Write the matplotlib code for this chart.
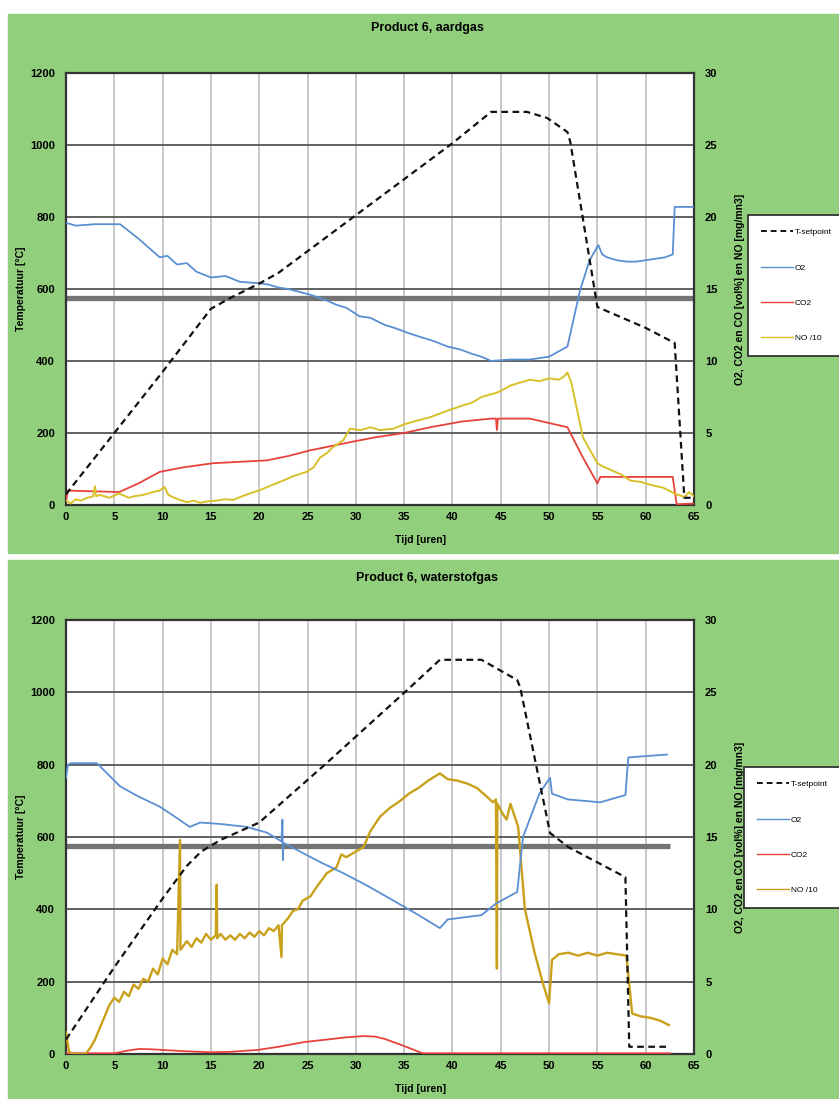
import matplotlib
matplotlib.use("Agg")
import matplotlib.pyplot as plt
from matplotlib.lines import Line2D
from matplotlib.patches import Rectangle

plt.rcParams["font.family"] = ["Liberation Sans", "DejaVu Sans"]

W, H = 839, 1099

GREEN = "#91cf7d"
C_T = "#111111"
C_O2 = "#5a8fd2"
C_CO2 = "#e8423c"
C_NO_TOP = "#d8c02a"
C_NO_BOT = "#c9a01a"

HOURS_TICKS = list(range(0, 70, 5))
TEMP_TICKS = list(range(0, 1400, 200))
GAS_TICKS = list(range(0, 35, 5))
REF_LEVEL = 575

# ---- Product 6, aardgas ----
top_t_h = [0, 5, 10, 15, 17, 20, 22, 30, 35, 40, 44, 47.7, 49.8, 51.9, 52.2, 55, 60, 63, 64, 65]
top_t_v = [30, 200, 370, 545, 575, 615, 645, 805, 905, 1005, 1092, 1092, 1075, 1036, 1008, 550, 492, 450, 20, 20]

top_o2_h = [0, 1, 3, 5.6, 7.5, 9.7, 10.5, 11.5, 12.5, 13.5, 15, 16.5, 18, 20, 21, 22, 23, 25.3, 27, 28,
            29, 30.4, 31.5, 33, 34, 35.6, 37, 38, 39.5, 40.8, 42, 43, 44, 46, 48, 50, 51.9, 52.5,
            53.2, 54.2, 55.1, 55.5, 56, 57, 58, 59, 60, 61, 62, 62.8, 63.0, 65]
top_o2_v = [19.6, 19.4, 19.5, 19.5, 18.5, 17.2, 17.3, 16.7, 16.8, 16.2, 15.8, 15.9, 15.5, 15.4, 15.3, 15.1, 15.0,
            14.6, 14.2, 13.9, 13.7, 13.1, 13.0, 12.5, 12.3, 11.9, 11.6, 11.4, 11.0, 10.8, 10.5, 10.3, 10.0, 10.1,
            10.1, 10.3, 11.0, 12.8, 14.9, 17.0, 18.05, 17.4, 17.2, 17.0, 16.9, 16.9, 17.0, 17.1, 17.2, 17.4,
            20.7, 20.7]

top_co2_h = [0, 0.2, 5.5, 7.5, 9.7, 12, 15.2, 18, 20.8, 23, 25.3, 27.5, 29.7, 32, 35, 37.7, 41, 44,
             44.5, 44.6, 44.7, 48, 51.9, 53.5, 55, 55.3, 59, 62.8, 63.2, 65]
top_co2_v = [0.3, 1.0, 0.9, 1.5, 2.3, 2.6, 2.9, 3.0, 3.1, 3.4, 3.8, 4.1, 4.4, 4.7, 5.0, 5.4, 5.8, 6.0,
             6.0, 5.2, 6.0, 6.0, 5.4, 3.3, 1.5, 1.95, 1.95, 1.95, 0.05, 0.1]

top_no_h = [0, 0.5, 1, 1.5, 2.2, 2.8, 3.0, 3.1, 3.5, 4.5, 5.5, 6.5, 7, 8, 9, 9.7, 10.2, 10.6, 11.2, 11.8,
            12.5, 13.2, 13.9, 14.6, 15.5, 16.5, 17.3, 18.2, 19, 20.1, 21, 22.5, 23.5, 24.9, 25.6, 26.3,
            27, 27.6, 28.7, 29.4, 30.5, 31.5, 32.5, 33.9, 35, 36, 37.7, 38.5, 39.7, 41, 42, 43, 44.6,
            45.5, 46, 47, 48, 49, 50, 51, 51.5, 51.9, 52.3, 53.5, 55, 55.5, 56.5, 57.5, 58.4, 59.5,
            60.5, 61.8, 63, 64, 64.5, 65]
top_no_v = [0.3, 0.1, 0.4, 0.3, 0.5, 0.6, 1.3, 0.6, 0.7, 0.5, 0.8, 0.5, 0.6, 0.7, 0.9, 1.0, 1.25, 0.7, 0.5, 0.35,
            0.2, 0.3, 0.15, 0.25, 0.3, 0.4, 0.35, 0.6, 0.8, 1.04, 1.3, 1.7, 2.0, 2.3, 2.6, 3.3,
            3.6, 4.0, 4.5, 5.3, 5.2, 5.4, 5.2, 5.3, 5.6, 5.8, 6.1, 6.3, 6.6, 6.9, 7.1, 7.5, 7.8,
            8.1, 8.3, 8.5, 8.7, 8.6, 8.8, 8.7, 8.9, 9.2, 8.5, 4.7, 2.9, 2.7, 2.4, 2.1, 1.7, 1.6,
            1.4, 1.2, 0.8, 0.55, 0.9, 0.6]

# ---- Product 6, waterstofgas ----
bot_t_h = [0, 5, 10, 12.5, 14, 16, 20, 27, 35.3, 38.7, 43, 46.7, 47, 50.1, 52, 57.9, 58.3, 62.5]
bot_t_v = [40, 240, 430, 520, 560, 592, 640, 805, 1006, 1090, 1090, 1034, 1015, 611, 572, 489, 20, 20]

bot_o2_h = [0, 0.2, 0.5, 3.2, 5.6, 7.5, 9.7, 11.5, 12.8, 13.9, 16, 18.7, 20.8, 22.3, 22.4, 22.45, 22.5,
            24.5, 26.5, 28.7, 31, 33.9, 36.5, 38.7, 39.5, 43, 44.5, 46.7, 47.3, 49, 50.1, 50.3, 51.9,
            55.3, 57.9, 58.2, 62.2]
bot_o2_v = [19.1, 20.0, 20.1, 20.1, 18.5, 17.8, 17.1, 16.3, 15.7, 16.0, 15.9, 15.7, 15.3, 14.7, 16.2, 13.4, 14.6,
            13.9, 13.2, 12.5, 11.7, 10.6, 9.6, 8.7, 9.3, 9.6, 10.4, 11.2, 15.0, 18.0, 19.1, 18.0, 17.6,
            17.4, 17.9, 20.5, 20.7]

bot_co2_h = [0, 5, 6.5, 7.6, 9, 12, 15, 17, 19.8, 22, 24.7, 27, 29, 30.8, 32, 33, 35, 36.9, 40, 50, 62.5]
bot_co2_v = [0.05, 0.05, 0.25, 0.35, 0.32, 0.2, 0.12, 0.15, 0.28, 0.5, 0.83, 1.0, 1.15, 1.24, 1.2, 1.04, 0.55,
             0.05, 0.05, 0.05, 0.05]

bot_no_h = [0, 0.3, 0.6, 2.0, 2.5, 3, 3.5, 4, 4.5, 5, 5.5, 6, 6.5, 7, 7.5, 8, 8.5, 9, 9.5, 10, 10.5, 11,
            11.5, 11.8, 11.85, 12.5, 13, 13.5, 14, 14.5, 15, 15.5, 15.6, 15.65, 16, 16.5, 17, 17.5,
            18, 18.5, 19, 19.5, 20, 20.5, 21, 21.5, 22, 22.3, 22.35, 23, 23.5, 24, 24.5, 25.3, 26,
            27, 28, 28.5, 29, 30, 30.8, 31.5, 32.5, 33.5, 34.6, 35.5, 36.5, 37.5, 38.7, 39.5, 40.5,
            41.5, 42.5, 43.2, 44.2, 44.5, 44.6, 44.65, 45.2, 45.6, 46, 46.8, 47.5, 48.5, 49.4, 50,
            50.3, 51, 52, 53, 54, 55, 56, 57, 58, 58.6, 59.5, 60.5, 61.5, 62.4]
bot_no_v = [1.5, 0.2, 0.0, 0.0, 0.4, 1.0, 1.8, 2.6, 3.4, 3.9, 3.6, 4.3, 4.0, 4.8, 4.5, 5.2, 5.0, 5.9, 5.5, 6.6, 6.2, 7.2,
            6.9, 14.8, 7.2, 7.8, 7.4, 8.0, 7.7, 8.3, 7.9, 8.2, 11.7, 8.0, 8.3, 7.9, 8.2, 7.9,
            8.3, 8.0, 8.4, 8.1, 8.5, 8.2, 8.7, 8.5, 8.9, 6.7, 8.9, 9.4, 9.9, 10.0, 10.6, 10.9, 11.6,
            12.5, 12.9, 13.8, 13.6, 14.0, 14.3, 15.4, 16.4, 17.0, 17.5, 18.0, 18.4, 18.9, 19.4, 19.0, 18.9,
            18.7, 18.4, 18.0, 17.4, 17.6, 5.9, 17.3, 16.6, 16.2, 17.3, 15.7, 10.0, 7.0, 4.8, 3.5,
            6.5, 6.9, 7.0, 6.8, 7.0, 6.8, 7.0, 6.9, 6.8, 2.8, 2.6, 2.5, 2.3, 2.0]

LABELS = ["T-setpoint", "O2", "CO2", "NO /10"]


def px_rect(x0, y0, x1, y1):
    return [x0 / W, 1 - y1 / H, (x1 - x0) / W, (y1 - y0) / H]


def draw_panel(fig, box, title, title_y, t, o2, co2, no, no_color, no_lw, ref_end, legend_xy):
    ax = fig.add_axes(px_rect(*box))
    ax.set_xlim(0, 65)
    ax.set_ylim(0, 1200)
    ax.set_xticks(HOURS_TICKS)
    ax.set_yticks(TEMP_TICKS)
    ax.grid(axis="x", color="#c8c8c8", lw=1.4)
    ax.grid(axis="y", color="#555555", lw=1.3)
    ax.set_axisbelow(True)
    ax.hlines(REF_LEVEL, 0, ref_end, color="#737373", lw=3.8, zorder=1.5)
    for s in ax.spines.values():
        s.set_color("#333333")
        s.set_linewidth(1.6)
    ax.tick_params(length=0, labelsize=8, pad=8)
    ax.tick_params(axis="x", pad=5)
    for lab in ax.get_xticklabels() + ax.get_yticklabels():
        lab.set_fontweight("bold")
    ax.set_ylabel("Temperatuur [°C]", fontsize=7.5, fontweight="bold")
    ax.yaxis.set_label_coords(-(box[0] - 26) / (box[2] - box[0]), 0.5)
    ax.set_xlabel("Tijd [uren]", fontsize=7.5, fontweight="bold")
    ax.xaxis.set_label_coords((421 - box[0]) / (box[2] - box[0]), -30 / (box[3] - box[1]))

    ax2 = ax.twinx()
    ax2.set_ylim(0, 30)
    ax2.set_yticks(GAS_TICKS)
    ax2.tick_params(length=0, labelsize=8, pad=8)
    for lab in ax2.get_yticklabels():
        lab.set_fontweight("bold")
    for s in ax2.spines.values():
        s.set_visible(False)
    ax2.set_ylabel("O2, CO2 en CO [vol%] en NO [mg/mn3]", fontsize=7.5, fontweight="bold")
    ax2.yaxis.set_label_coords((735 - box[0]) / (box[2] - box[0]), 0.5)
    ax2.plot(*co2, color=C_CO2, lw=1.3)
    ax2.plot(*no, color=no_color, lw=no_lw)
    ax2.plot(*o2, color=C_O2, lw=1.3)

    ax3 = ax.twinx()
    ax3.set_ylim(0, 1200)
    ax3.set_axis_off()
    ax3.plot(*t, color=C_T, lw=1.6, ls=(0, (3, 2)))

    fig.text(427 / W, 1 - title_y / H, title, ha="center", va="center", fontsize=9, fontweight="bold")

    handles = [
        Line2D([], [], color=C_T, lw=1.4, ls=(0, (3, 2))),
        Line2D([], [], color=C_O2, lw=1),
        Line2D([], [], color=C_CO2, lw=1),
        Line2D([], [], color=no_color, lw=1),
    ]
    leg = fig.legend(handles, LABELS, loc="upper left",
                     bbox_to_anchor=(legend_xy[0] / W, 1 - legend_xy[1] / H),
                     fontsize=6, frameon=True, fancybox=False, framealpha=1,
                     edgecolor="#333333", labelspacing=3.3, handlelength=3.8,
                     handletextpad=0.2, borderpad=1.6, borderaxespad=0)
    leg.get_frame().set_linewidth(1.3)


def main():
    fig = plt.figure(figsize=(W / 100, H / 100), dpi=100)
    fig.patches.append(Rectangle((8 / W, 1 - 553 / H), 1, 539 / H, transform=fig.transFigure,
                                 color=GREEN, zorder=-10))
    fig.patches.append(Rectangle((8 / W, 0), 1, 1 - 560 / H, transform=fig.transFigure,
                                 color=GREEN, zorder=-10))

    draw_panel(fig, (66, 73, 694, 505), "Product 6, aardgas", 28,
               (top_t_h, top_t_v), (top_o2_h, top_o2_v), (top_co2_h, top_co2_v),
               (top_no_h, top_no_v), C_NO_TOP, 1.4, 65, (748, 215))
    draw_panel(fig, (66, 620, 694, 1054), "Product 6, waterstofgas", 578,
               (bot_t_h, bot_t_v), (bot_o2_h, bot_o2_v), (bot_co2_h, bot_co2_v),
               (bot_no_h, bot_no_v), C_NO_BOT, 1.7, 62.5, (744, 767))

    fig.savefig("out.png", dpi=100)
    plt.close(fig)


if __name__ == "__main__":
    main()
